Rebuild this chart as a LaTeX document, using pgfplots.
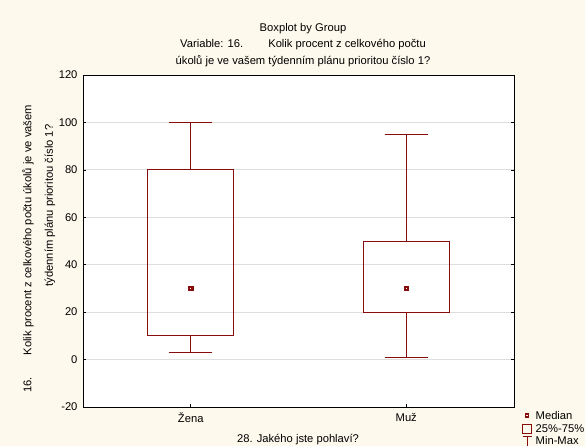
\documentclass[border=0pt]{standalone}
\usepackage{pgfplots}
\pgfplotsset{compat=1.18}
\usepackage{fontspec}
\setmainfont{Liberation Sans}
\definecolor{bg}{RGB}{254,249,237}
\definecolor{dred}{RGB}{136,12,12}
\definecolor{gridc}{RGB}{222,222,222}
\newcommand{\f}{\fontsize{11.2}{13}\selectfont}
\begin{document}
\begin{tikzpicture}
\fill[bg] (0pt,0pt) rectangle (585pt,446pt);
\begin{axis}[
  at={(83pt,39pt)}, anchor=south west, scale only axis,
  width=431pt, height=332pt,
  xmin=0.5, xmax=2.5, ymin=-20, ymax=120,
  xtick={1,2}, xticklabels={Žena,Muž},
  ytick={-20,0,20,40,60,80,100,120},
  ymajorgrids, grid style={gridc, line width=0.8pt},
  axis background/.style={fill=white},
  tick align=inside, major tick length=3pt,
  tick style={black, line width=0.6pt},
  xtick pos=bottom, ytick pos=both,
  ticklabel style={font=\f},
  /pgf/number format/assume math mode=true,
  yticklabel style={xshift=-2pt},
  xticklabel style={yshift=-2.5pt},
  axis line style={black, line width=0.8pt},
  bx/.style={dred, line width=0.9pt, mark=none, forget plot},
]
% Zena: min 3, Q1 10, median 30, Q3 80, max 100
\addplot[bx] coordinates {(0.8,10) (1.2,10) (1.2,80) (0.8,80) (0.8,10)};
\addplot[bx] coordinates {(1,80) (1,100)};
\addplot[bx] coordinates {(0.9,100) (1.1,100)};
\addplot[bx] coordinates {(1,10) (1,3)};
\addplot[bx] coordinates {(0.9,3) (1.1,3)};
% Muz: min 1, Q1 20, median 30, Q3 50, max 95
\addplot[bx] coordinates {(1.8,20) (2.2,20) (2.2,50) (1.8,50) (1.8,20)};
\addplot[bx] coordinates {(2,50) (2,95)};
\addplot[bx] coordinates {(1.9,95) (2.1,95)};
\addplot[bx] coordinates {(2,20) (2,1)};
\addplot[bx] coordinates {(1.9,1) (2.1,1)};
% medians
\addplot[dred, only marks, mark=square, mark size=1.7pt, line width=2.1pt, forget plot]
  coordinates {(1,30) (2,30)};
\end{axis}
\node[font=\f] at (303pt,417pt) {Boxplot by Group};
\node[font=\f] at (303pt,401pt) {Variable: 16.\hspace{25pt}Kolik procent z celkového počtu};
\node[font=\f] at (303pt,385.3pt) {úkolů je ve vašem týdenním plánu prioritou číslo 1?};
\node[font=\f, rotate=90, anchor=west, inner sep=0pt] at (28pt,53pt) {16.\hspace{22pt}Kolik procent z celkového počtu úkolů je ve vašem};
\node[font=\f, rotate=90] at (50pt,240.5pt) {týdenním plánu prioritou číslo 1?};
\node[font=\f] at (298pt,6pt) {28. Jakého jste pohlaví?};
% legend
\draw[dred, line width=1.8pt] (525.5pt,28.8pt) rectangle (528.5pt,31.8pt);
\node[font=\f, anchor=west, inner sep=0pt] at (535.5pt,30.3pt) {Median};
\draw[dred, line width=0.7pt] (522.5pt,12.5pt) rectangle (531.5pt,22pt);
\node[font=\f, anchor=west, inner sep=0pt] at (535.5pt,17.5pt) {25\%-75\%};
\draw[dred, line width=0.7pt] (522.5pt,10pt) -- (531.5pt,10pt) (527pt,10pt) -- (527pt,0pt);
\node[font=\f, anchor=west, inner sep=0pt] at (535.5pt,5.3pt) {Min-Max};
\pgfresetboundingbox
\useasboundingbox (0pt,0pt) rectangle (585pt,446pt);
\end{tikzpicture}
\end{document}
